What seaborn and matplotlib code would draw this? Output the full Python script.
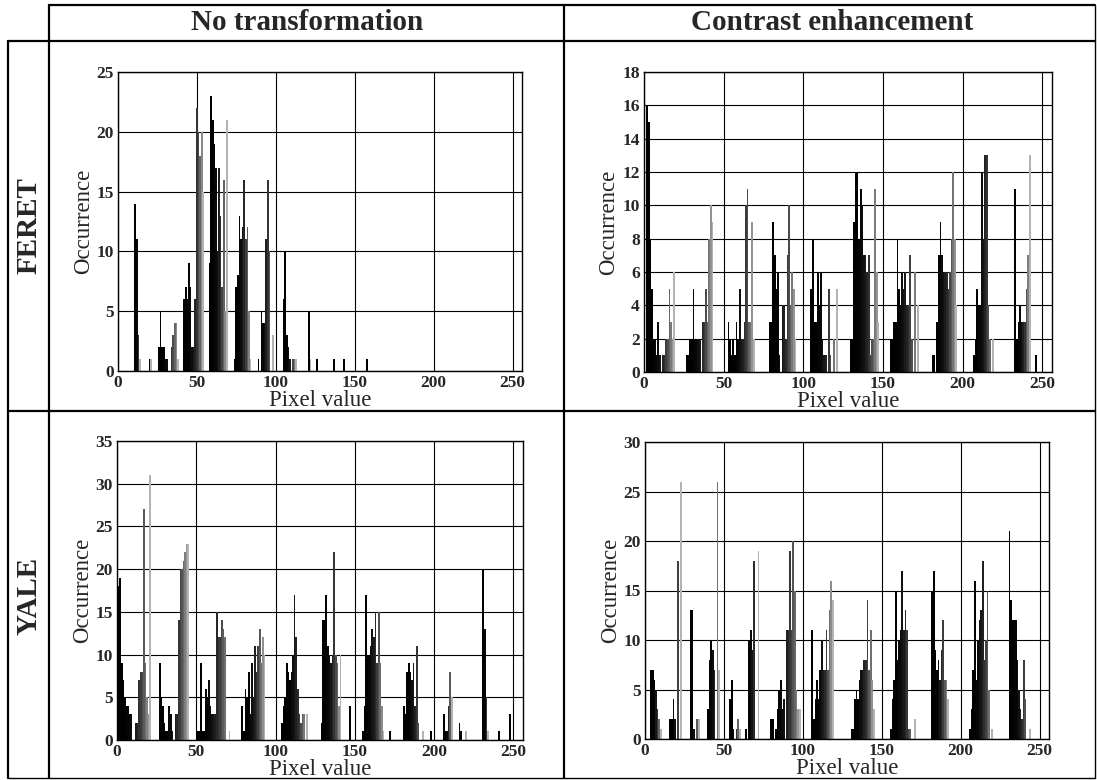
import numpy as np
import pandas as pd
import matplotlib
matplotlib.use("Agg")
import matplotlib.pyplot as plt
from matplotlib.lines import Line2D
import seaborn as sns

# ---------------- data ----------------
COL_TITLES = ["No transformation", "Contrast enhancement"]
ROW_TITLES = ["FERET", "YALE"]
X_TICKS = [0, 50, 100, 150, 200, 250]

FERET_RAW_PX = [11, 12, 13, 14, 20, 21, 26, 27, 28, 29, 30, 31, 34, 35, 36, 37, 38,
                42, 43, 44, 45, 46, 47, 48, 49, 50, 51, 52, 53, 54,
                58, 59, 60, 61, 62, 63, 64, 65, 66, 67, 68, 69,
                74, 75, 76, 77, 78, 79, 80, 81, 82, 83, 84,
                89, 91, 92, 93, 94, 95, 96, 98,
                105, 106, 107, 108, 109, 111, 112, 113, 121, 122, 126, 137, 143, 158]
FERET_RAW_CNT = [14, 11, 3, 1, 1, 1, 2, 5, 2, 2, 1, 1, 2, 3, 4, 4, 1,
                 6, 7, 6, 9, 7, 2, 2, 6, 22, 20, 18, 20, 15,
                 9, 23, 21, 19, 17, 10, 17, 13, 7, 16, 5, 21,
                 1, 7, 8, 13, 11, 12, 16, 11, 12, 5, 1,
                 1, 5, 4, 4, 11, 16, 10, 3,
                 6, 10, 3, 2, 1, 1, 1, 1, 5, 1, 1, 1, 1, 1]
FERET_RAW_YTICKS = [0, 5, 10, 15, 20, 25]

FERET_CE_PX = [2, 3, 4, 5, 6, 7, 8, 9, 10, 12, 13, 14, 15, 16, 17, 18, 19,
               27, 28, 29, 30, 31, 32, 33, 34, 35, 37, 38, 39, 40, 41, 42, 43,
               53, 54, 55, 56, 57, 58, 59, 60, 61, 62, 63, 64, 65, 66, 67, 68, 69,
               79, 80, 81, 82, 83, 84, 85, 87, 88, 89, 90, 91, 92, 93, 94, 95,
               105, 106, 107, 108, 109, 110, 111, 112, 113, 114, 116, 117, 119, 121,
               130, 131, 132, 133, 134, 135, 136, 137, 138, 139, 140, 141, 142, 143, 144, 145, 146, 147,
               155, 156, 157, 158, 159, 160, 161, 162, 163, 164, 165, 166, 167, 168, 170, 172,
               181, 182, 184, 185, 186, 187, 188, 189, 190, 191, 192, 193, 194, 195, 196,
               207, 208, 209, 210, 211, 212, 213, 214, 215, 216, 217, 219,
               233, 234, 235, 236, 237, 238, 239, 240, 241, 242, 246]
FERET_CE_CNT = [16, 15, 8, 5, 2, 2, 1, 3, 1, 1, 1, 2, 2, 5, 3, 2, 6,
                1, 1, 2, 2, 5, 2, 2, 2, 2, 3, 3, 5, 3, 8, 10, 9,
                3, 2, 1, 2, 1, 3, 2, 5, 2, 2, 3, 10, 11, 3, 3, 9, 2,
                3, 3, 9, 7, 5, 6, 1, 4, 4, 2, 7, 10, 4, 6, 5, 2,
                5, 8, 3, 3, 6, 4, 6, 2, 1, 1, 5, 1, 2, 5,
                2, 2, 9, 12, 12, 8, 11, 10, 7, 7, 6, 7, 1, 2, 2, 11, 6, 3,
                2, 2, 3, 3, 8, 5, 4, 6, 5, 6, 4, 4, 7, 2, 6, 4,
                1, 1, 3, 7, 9, 7, 6, 6, 6, 5, 6, 8, 12, 8, 4,
                1, 2, 5, 4, 4, 12, 8, 13, 13, 4, 2, 2,
                11, 2, 3, 4, 3, 3, 3, 5, 7, 13, 1]
FERET_CE_YTICKS = [0, 2, 4, 6, 8, 10, 12, 14, 16, 18]

YALE_RAW_PX = [1, 2, 3, 4, 5, 6, 7, 8, 9,
               12, 13, 14, 15, 16, 17, 18, 19, 20, 21,
               27, 28, 29, 30, 31, 32, 33, 34, 35,
               37, 38, 39, 40, 41, 42, 43, 44, 45,
               51, 52, 53, 54, 55, 56, 57, 58, 59, 60, 61, 62, 63, 64, 65, 66, 67, 68, 71,
               79, 80, 81, 82, 83, 84, 85, 86, 87, 88, 89, 90, 91, 92, 93,
               104, 105, 106, 107, 108, 109, 110, 111, 112, 113, 114, 115, 116, 117, 118, 120,
               129, 130, 131, 132, 133, 134, 135, 136, 137, 138, 139, 140, 141, 147,
               155, 156, 157, 158, 159, 160, 161, 162, 163, 164, 165, 166, 167, 168, 172,
               181, 182, 183, 184, 185, 186, 187, 188, 189, 190, 193, 198,
               206, 207, 208, 209, 210, 211, 216, 217, 220,
               231, 232, 233, 234, 241, 248]
YALE_RAW_CNT = [18, 19, 9, 7, 5, 4, 4, 3, 3,
                2, 2, 7, 8, 8, 27, 9, 5, 3, 31,
                9, 5, 4, 2, 1, 1, 4, 3, 1,
                3, 3, 14, 20, 20, 21, 22, 23, 23,
                1, 1, 9, 1, 1, 6, 5, 7, 4, 3, 3, 3, 15, 12, 12, 14, 13, 12, 1,
                4, 1, 6, 5, 8, 3, 9, 5, 11, 8, 11, 13, 9, 12, 10,
                2, 4, 5, 9, 8, 7, 8, 10, 17, 12, 6, 3, 2, 3, 3, 3,
                2, 14, 14, 17, 11, 10, 9, 10, 22, 10, 9, 4, 10, 4,
                1, 4, 17, 10, 10, 11, 13, 12, 15, 9, 15, 9, 4, 1, 1,
                4, 3, 8, 9, 8, 7, 9, 4, 11, 2, 1, 1,
                3, 1, 1, 4, 8, 5, 2, 1, 1,
                20, 13, 5, 1, 1, 3]
YALE_RAW_YTICKS = [0, 5, 10, 15, 20, 25, 30, 35]

YALE_CE_PX = [4, 5, 6, 7, 8, 9, 10, 16, 17, 18, 19, 21, 23,
              29, 30, 31, 33, 34, 40, 41, 42, 43, 44, 46, 47,
              54, 55, 56, 58, 59, 60, 64, 66, 67, 68, 69, 72,
              80, 81, 83, 84, 85, 86, 87, 88, 90, 91, 92, 93, 94, 95, 96, 97, 98,
              106, 107, 108, 109, 110, 111, 112, 113, 114, 115, 116, 117, 118, 119,
              131, 132, 133, 134, 135, 136, 137, 138, 139, 140, 141, 142, 143, 144, 145,
              156, 157, 158, 159, 160, 161, 162, 163, 164, 165, 166, 167, 168, 171,
              182, 183, 184, 185, 186, 187, 188, 189, 190, 191, 192,
              206, 207, 208, 209, 210, 211, 212, 213, 214, 215, 216, 217, 218, 220,
              231, 232, 233, 234, 235, 236, 237, 238, 239, 240, 241, 244]
YALE_CE_CNT = [7, 7, 6, 5, 3, 2, 1, 2, 2, 4, 2, 18, 26,
               13, 13, 1, 2, 2, 3, 8, 10, 9, 7, 26, 7,
               4, 6, 1, 1, 2, 1, 1, 10, 11, 9, 18, 19,
               2, 2, 1, 3, 5, 6, 3, 4, 11, 11, 19, 11, 20, 15, 5, 3, 3,
               11, 2, 4, 6, 4, 7, 10, 7, 7, 11, 7, 13, 16, 14,
               1, 1, 4, 5, 4, 6, 7, 7, 8, 8, 14, 7, 11, 6, 3,
               1, 4, 6, 15, 8, 10, 11, 17, 11, 13, 11, 1, 1, 2,
               15, 17, 9, 7, 8, 6, 9, 12, 6, 6, 4,
               1, 3, 7, 16, 6, 10, 12, 13, 18, 8, 10, 15, 5, 1,
               21, 14, 12, 12, 12, 8, 5, 3, 2, 8, 4, 1]
YALE_CE_YTICKS = [0, 5, 10, 15, 20, 25, 30]

PANELS = [
    (FERET_RAW_PX, FERET_RAW_CNT, FERET_RAW_YTICKS),
    (FERET_CE_PX, FERET_CE_CNT, FERET_CE_YTICKS),
    (YALE_RAW_PX, YALE_RAW_CNT, YALE_RAW_YTICKS),
    (YALE_CE_PX, YALE_CE_CNT, YALE_CE_YTICKS),
]

# ---------------- style ----------------
sns.set_theme(style="white")
plt.rcParams["font.family"] = ["Liberation Serif", "DejaVu Serif"]
plt.rcParams["axes.edgecolor"] = "black"

W, H = 1097, 780
fig = plt.figure(figsize=(W / 100, H / 100), dpi=100)
fig.patch.set_facecolor("white")


def px2fig(x0, y0, x1, y1):
    return [x0 / W, 1 - y1 / H, (x1 - x0) / W, (y1 - y0) / H]


AX_BOXES = [
    (118, 72, 522, 371),
    (644, 72, 1052, 372),
    (117, 441, 523, 740),
    (645, 442, 1049, 739),
]


def cluster_shade(px):
    """grey level per bar: dark at the start of each cluster, lighter at its end"""
    px = np.sort(np.asarray(px))
    shades = {}
    start = 0
    for i in range(1, len(px) + 1):
        if i == len(px) or px[i] - px[i - 1] > 3:
            grp = px[start:i]
            span = max(grp[-1] - grp[0], 1)
            for p in grp:
                t = (p - grp[0]) / span if len(grp) > 1 else 0.0
                shades[int(p)] = 0.70 * t ** 3
            start = i
    return shades


for (pxs, cnts, yt), box in zip(PANELS, AX_BOXES):
    ax = fig.add_axes(px2fig(*box))
    df = pd.DataFrame({"Pixel value": pxs, "Occurrence": cnts})
    sns.histplot(data=df, x="Pixel value", weights="Occurrence", discrete=True,
                 ax=ax, color="black", alpha=1, linewidth=0, edgecolor="none")
    shades = cluster_shade(pxs)
    for p in ax.patches:
        xc = int(round(p.get_x() + p.get_width() / 2))
        g = shades.get(xc, 0.0)
        p.set_facecolor((g, g, g))
        p.set_x(xc - 0.55)
        p.set_width(1.1)
    ax.set_xlim(0, 256)
    ax.set_ylim(0, yt[-1])
    ax.set_xticks(X_TICKS)
    ax.set_yticks(yt)
    ax.grid(True, color="black", linewidth=0.8)
    ax.set_axisbelow(True)
    ax.tick_params(length=0, labelsize=12.5, pad=3)
    for lab in ax.get_xticklabels() + ax.get_yticklabels():
        lab.set_fontweight("bold")
    ax.set_xlabel("Pixel value", fontsize=16.5, labelpad=-1)
    ax.set_ylabel("Occurrence", fontsize=16.5, labelpad=2)
    for s in ax.spines.values():
        s.set_color("black")
        s.set_linewidth(1.0)

# ---------------- table frame ----------------
def hline(y, x0, x1, lw=1.6):
    fig.add_artist(Line2D([x0 / W, x1 / W], [1 - y / H, 1 - y / H],
                          color="black", linewidth=lw, transform=fig.transFigure))


def vline(x, y0, y1, lw=1.6):
    fig.add_artist(Line2D([x / W, x / W], [1 - y0 / H, 1 - y1 / H],
                          color="black", linewidth=lw, transform=fig.transFigure))


hline(5, 49, 1095)
hline(41, 8, 1095)
hline(411, 8, 1095)
hline(778, 8, 1095, lw=1.0)
vline(8, 41, 778)
vline(49, 5, 778)
vline(564, 5, 778)
vline(1095, 5, 778, lw=1.0)

fig.text(307 / W, 1 - 23 / H, COL_TITLES[0], ha="center", va="center",
         fontsize=21, fontweight="bold")
fig.text(832 / W, 1 - 23 / H, COL_TITLES[1], ha="center", va="center",
         fontsize=21, fontweight="bold")
fig.text(29 / W, 1 - 226 / H, ROW_TITLES[0], ha="center", va="center",
         rotation=90, fontsize=21, fontweight="bold")
fig.text(29 / W, 1 - 596 / H, ROW_TITLES[1], ha="center", va="center",
         rotation=90, fontsize=21, fontweight="bold")

fig.savefig("out.png", dpi=100, facecolor="white")
